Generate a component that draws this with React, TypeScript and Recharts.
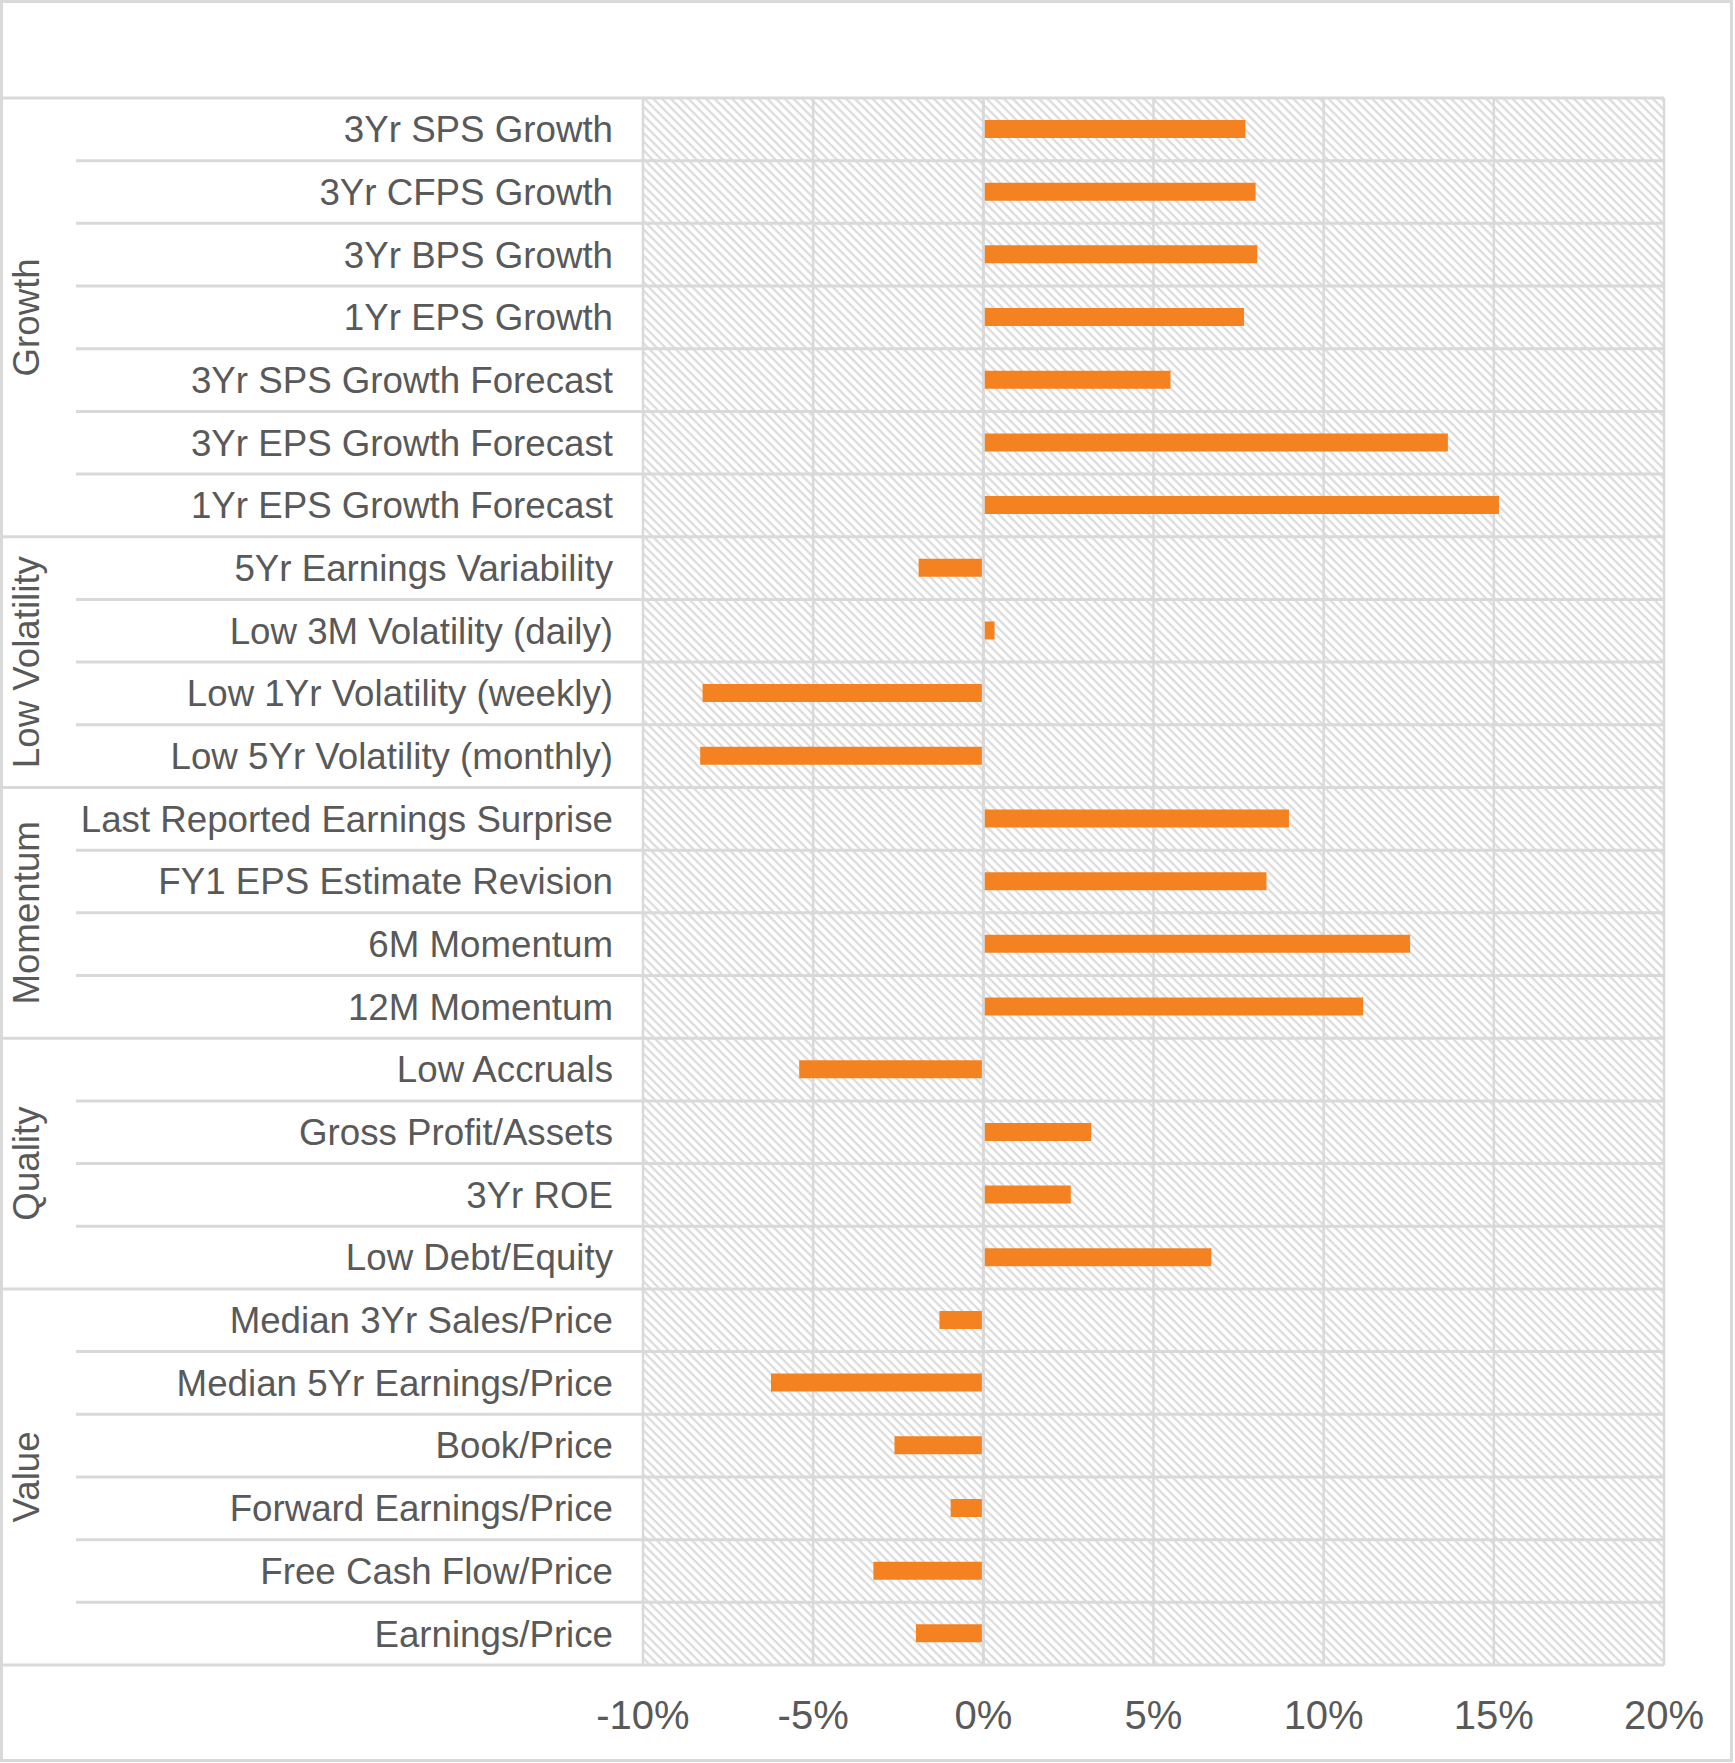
import React from "react";
import {
  BarChart,
  Bar,
  XAxis,
  YAxis,
  CartesianGrid,
  ReferenceLine,
} from "recharts";

const CATEGORIES = [
  "3Yr SPS Growth",
  "3Yr CFPS Growth",
  "3Yr BPS Growth",
  "1Yr EPS Growth",
  "3Yr SPS Growth Forecast",
  "3Yr EPS Growth Forecast",
  "1Yr EPS Growth Forecast",
  "5Yr Earnings Variability",
  "Low 3M Volatility (daily)",
  "Low 1Yr Volatility (weekly)",
  "Low 5Yr Volatility (monthly)",
  "Last Reported Earnings Surprise",
  "FY1 EPS Estimate Revision",
  "6M Momentum",
  "12M Momentum",
  "Low Accruals",
  "Gross Profit/Assets",
  "3Yr ROE",
  "Low Debt/Equity",
  "Median 3Yr Sales/Price",
  "Median 5Yr Earnings/Price",
  "Book/Price",
  "Forward Earnings/Price",
  "Free Cash Flow/Price",
  "Earnings/Price",
];

// percent
const VALUES = [
  7.7, 8.0, 8.05, 7.66, 5.5, 13.65, 15.15,
  -1.9, 0.33, -8.25, -8.32,
  8.98, 8.32, 12.54, 11.16,
  -5.41, 3.17, 2.57, 6.7,
  -1.29, -6.24, -2.61, -0.96, -3.23, -1.98,
];

const GROUPS = ["Growth", "Low Volatility", "Momentum", "Quality", "Value"];
const GROUP_SIZES = [7, 4, 4, 4, 6];

const X_TICKS = [-10, -5, 0, 5, 10, 15, 20];

const W = 1735;
const H = 1763;
const PLOT_LEFT = 643;
const PLOT_RIGHT = 1664;
const PLOT_TOP = 98;
const PLOT_BOTTOM = 1665;
const LINE = "#d9d9d9";
const TEXT = "#595959";
const FONT = "'Liberation Sans', Arial, sans-serif";

const data = CATEGORIES.map((name, i) => ({ name, value: VALUES[i] }));

// first row index of each group
const groupStarts: number[] = [];
GROUP_SIZES.reduce((acc, n) => {
  groupStarts.push(acc);
  return acc + n;
}, 0);

function CategoryTick(props: any) {
  const { y, payload, index } = props;
  const half =
    payload?.offset ?? (PLOT_BOTTOM - PLOT_TOP) / CATEGORIES.length / 2;
  const top = y - half;
  const g = groupStarts.indexOf(index);
  const isLast = index === CATEGORIES.length - 1;
  return (
    <g>
      <line
        x1={g >= 0 ? 0 : 76}
        x2={PLOT_RIGHT}
        y1={top}
        y2={top}
        stroke={LINE}
        strokeWidth={3}
      />
      {isLast && (
        <line
          x1={0}
          x2={PLOT_RIGHT}
          y1={y + half}
          y2={y + half}
          stroke={LINE}
          strokeWidth={3}
        />
      )}
      <text
        x={613}
        y={y}
        dy="0.35em"
        textAnchor="end"
        fill={TEXT}
        fontSize={36.7}
        fontFamily={FONT}
      >
        {payload.value}
      </text>
      {g >= 0 && (
        <text
          x={26}
          y={top + half * GROUP_SIZES[g]}
          transform={`rotate(-90 26 ${top + half * GROUP_SIZES[g]})`}
          textAnchor="middle"
          dy="0.35em"
          fill={TEXT}
          fontSize={36.7}
          fontFamily={FONT}
        >
          {GROUPS[g]}
        </text>
      )}
    </g>
  );
}

function PercentTick(props: any) {
  const { x, payload } = props;
  return (
    <text
      x={x}
      y={1729}
      textAnchor="middle"
      fill={TEXT}
      fontSize={40}
      fontFamily={FONT}
    >
      {`${payload.value}%`}
    </text>
  );
}

export default function App() {
  return (
    <div
      style={{
        position: "absolute",
        left: 0,
        top: 0,
        width: W,
        height: H,
        background: "#fff",
      }}
    >
      <BarChart
        width={W}
        height={H}
        data={data}
        layout="vertical"
        margin={{ top: PLOT_TOP, right: W - PLOT_RIGHT, bottom: 0, left: 0 }}
      >
        <defs>
          <pattern
            id="hatch"
            patternUnits="userSpaceOnUse"
            width={6.2}
            height={6.2}
            patternTransform="rotate(-45)"
          >
            <rect width={6.2} height={6.2} fill="#ffffff" />
            <line x1={1.5} y1={0} x2={1.5} y2={6.2} stroke="#dcdcdc" strokeWidth={2.3} />
          </pattern>
        </defs>
        <CartesianGrid
          horizontal={false}
          vertical
          stroke={LINE}
          strokeWidth={2.5}
          fill="url(#hatch)"
          fillOpacity={1}
        />
        <XAxis
          type="number"
          domain={[-10, 20]}
          ticks={X_TICKS}
          allowDataOverflow
          axisLine={false}
          tickLine={false}
          height={H - PLOT_BOTTOM}
          tick={<PercentTick />}
        />
        <YAxis
          type="category"
          dataKey="name"
          width={PLOT_LEFT}
          axisLine={false}
          tickLine={false}
          interval={0}
          tick={<CategoryTick />}
        />
        <Bar
          dataKey="value"
          fill="#F58220"
          barSize={18}
          isAnimationActive={false}
        />
        <ReferenceLine x={0} stroke={LINE} strokeWidth={3} />
      </BarChart>
      <div
        style={{
          position: "absolute",
          left: 0,
          top: 0,
          width: 1733,
          height: 1762,
          border: `3px solid ${LINE}`,
          boxSizing: "border-box",
          pointerEvents: "none",
        }}
      />
    </div>
  );
}
